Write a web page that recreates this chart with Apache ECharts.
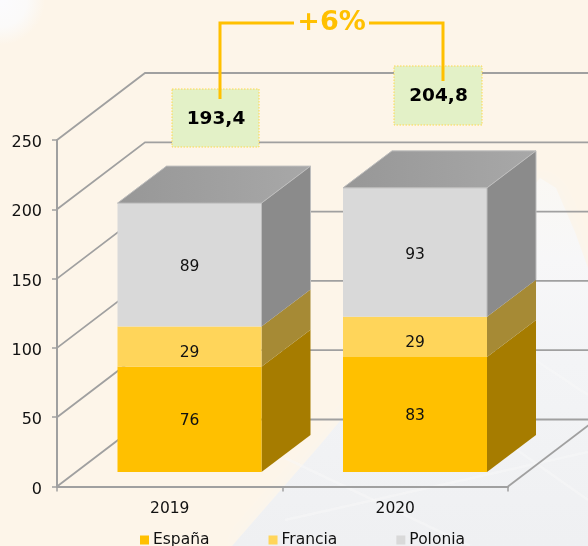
<!DOCTYPE html>
<html><head><meta charset="utf-8">
<style>html,body{margin:0;padding:0;background:#FDF5E9}#c{width:588px;height:546px}</style>
<script src="https://cdn.jsdelivr.net/npm/echarts@6/dist/echarts.min.js"></script>
</head><body><div id="c"></div>
<script>
const categories = ['2019', '2020'];
const espana = [76, 83];
const francia = [29, 29];
const polonia = [89, 93];
const totals = ['193,4', '204,8'];
const change = '+6%';
const yTicks = [0, 50, 100, 150, 200, 250];
const seriesNames = ['España', 'Francia', 'Polonia'];
const seriesValues = [espana, francia, polonia];
const frontColors = ['#FFC000', '#FFD55A', '#D9D9D9'];
const sideColors = ['#A67C00', '#A68A35', '#8B8B8B'];
const FONT = '"DejaVu Sans", Verdana, sans-serif';
const TXT = '#111111', GRIDC = '#A0A0A0', GOLD = '#FFC000';
const WALL = [88, -67], FRONT_DY = -14.5, DEPTH = [49, -37], BAR_W = 144, BAR_OFF = -52.25;
const LABEL_DY = [1.5, 6, 2.5];

function gridItem(params, api) {
  const v = api.value(0);
  const band = api.size([1, 0])[0];
  const p = api.coord([0, v]);
  const x0 = p[0] - band / 2, y = p[1];
  const children = [{
    type: 'polyline',
    shape: { points: [[x0, y], [x0 + WALL[0], y + WALL[1]], [x0 + 900, y + WALL[1]]] },
    style: { stroke: GRIDC, lineWidth: 1.8, fill: 'none' }
  }];
  if (v === 0) {
    const xr = x0 + band * categories.length;
    children.push({
      type: 'line',
      shape: { x1: xr, y1: y, x2: xr + WALL[0], y2: y + WALL[1] },
      style: { stroke: GRIDC, lineWidth: 1.8 }
    });
  }
  return { type: 'group', children };
}

function barRender(si) {
  return function (params, api) {
    const ci = api.value(0), lo = api.value(1), hi = api.value(2);
    const a = api.coord([ci, lo]), b = api.coord([ci, hi]);
    const x = a[0] + BAR_OFF, yB = a[1] + FRONT_DY, yT = b[1] + FRONT_DY;
    const r = x + BAR_W, dx = DEPTH[0], dy = DEPTH[1];
    const last = si === seriesValues.length - 1;
    const children = [
      { type: 'polygon',
        shape: { points: [[r, yB], [r + dx, yB + dy], [r + dx, yT + dy], [r, yT]] },
        style: { fill: sideColors[si] } },
      { type: 'rect', shape: { x, y: yT, width: BAR_W, height: yB - yT },
        style: { fill: frontColors[si] } }
    ];
    if (last) {
      children.push({
        type: 'polygon',
        shape: { points: [[x, yT], [r, yT], [r + dx, yT + dy], [x + dx, yT + dy]] },
        style: {
          fill: new echarts.graphic.LinearGradient(0, 0, 1, 0, [
            { offset: 0, color: '#979797' }, { offset: 1, color: '#A8A8A8' }]),
          stroke: '#BDBDBD', lineWidth: 1
        }
      });
      children.push({ type: 'line', shape: { x1: r + dx, y1: yT + dy, x2: r + dx, y2: yB + dy },
        style: { stroke: '#BDBDBD', lineWidth: 1 } });
      children.push({ type: 'line', shape: { x1: r, y1: yT, x2: r, y2: yB },
        style: { stroke: '#BDBDBD', lineWidth: 1 } });
    }
    children.push({
      type: 'text',
      style: { text: String(hi - lo), x: x + BAR_W / 2, y: (yT + yB) / 2 + LABEL_DY[si], align: 'center',
               verticalAlign: 'middle', fill: TXT, font: '15.5px ' + FONT }
    });
    return { type: 'group', children };
  };
}

const barSeries = seriesNames.map((name, si) => ({
  name, type: 'custom', z: 3, clip: false,
  coordinateSystem: 'cartesian2d',
  itemStyle: { color: frontColors[si] },
  encode: { x: 0, y: [1, 2] },
  renderItem: barRender(si),
  data: categories.map((c, ci) => {
    let base = 0;
    for (let k = 0; k < si; k++) base += seriesValues[k][ci];
    return [ci, base, base + seriesValues[si][ci]];
  })
}));

function box(x, y, w, h, label) {
  return [
    { type: 'rect', z: 20, shape: { x, y, width: w, height: h },
      style: { fill: '#E3F1C7', stroke: '#FFD84D', lineWidth: 1, lineDash: [1.5, 1.5] } },
    { type: 'text', z: 22,
      style: { text: label, x: x + w / 2 + 0.5, y: y + h / 2 + 1, align: 'center', verticalAlign: 'middle',
               fill: '#000', font: 'bold 18.5px ' + FONT } }
  ];
}
const streak = (x1, y1, x2, y2) => ({ type: 'line', z: -8, silent: true, shape: { x1, y1, x2, y2 },
  style: { stroke: '#F8F8F9', lineWidth: 2.5, opacity: 0.45 } });

const chart = echarts.init(document.getElementById('c'), null, { renderer: 'canvas' });
chart.setOption({
  animation: false,
  backgroundColor: '#FDF5E9',
  textStyle: { fontFamily: FONT },
  grid: { left: 57, right: 80, top: 140, bottom: 59.5, containLabel: false },
  legend: {
    data: seriesNames, left: 140, top: 532, itemWidth: 9, itemHeight: 9, itemGap: 59,
    icon: 'rect', padding: 0,
    textStyle: { fontSize: 15.5, color: TXT, fontFamily: FONT, padding: [0, 0, 0, -1] }
  },
  xAxis: {
    type: 'category', data: categories,
    axisLine: { lineStyle: { color: GRIDC, width: 2 } },
    axisTick: { show: true, length: 5, alignWithLabel: false, lineStyle: { color: GRIDC, width: 1.5 } },
    axisLabel: { color: TXT, fontSize: 15.5, margin: 14, fontFamily: FONT }
  },
  yAxis: {
    type: 'value', min: 0, max: 250, interval: 50,
    axisLine: { show: true, lineStyle: { color: GRIDC, width: 2 } },
    axisTick: { show: true, length: 5, lineStyle: { color: GRIDC, width: 1.5 } },
    axisLabel: { margin: 15, formatter: '{t|{value}}',
      rich: { t: { color: TXT, fontSize: 16, fontFamily: FONT, padding: [6, 0, 0, 0] } } },
    splitLine: { show: false }
  },
  series: [{
    type: 'custom', z: 1, silent: true, clip: false, coordinateSystem: 'cartesian2d',
    renderItem: gridItem, data: yTicks.map(v => [v]), encode: { y: 0 }
  }].concat(barSeries),
  graphic: [
    { type: 'polygon', z: -10, silent: true,
      shape: { points: [[232, 546], [320, 445], [345, 415], [540, 178], [556, 188], [575, 232], [588, 268], [588, 546]] },
      style: {
        fill: new echarts.graphic.LinearGradient(0, 0, 0, 1, [
          { offset: 0, color: '#FAF8F4' }, { offset: 0.22, color: '#F7F7F8' }, { offset: 0.5, color: '#F3F4F6' }, { offset: 1, color: '#EFF0F2' }]),
        shadowBlur: 18, shadowColor: '#F8F5EF'
      } },
    { type: 'circle', z: -9, silent: true, shape: { cx: 0, cy: 0, r: 45 },
      style: { fill: new echarts.graphic.RadialGradient(0.5, 0.5, 0.5, [
        { offset: 0, color: '#FBFBFE' }, { offset: 0.6, color: '#FBFAF9' }, { offset: 1, color: '#FDF5E9' }]) } },
    streak(285, 520, 588, 452),
    streak(285, 458, 470, 546),
    streak(510, 445, 588, 500),
    streak(490, 330, 588, 395),
    ...box(172, 89, 87, 58, totals[0]),
    ...box(394, 66, 88, 59, totals[1]),
    { type: 'polyline', z: 25, shape: { points: [[220, 99], [220, 23], [294, 23]] },
      style: { stroke: GOLD, lineWidth: 3, fill: 'none' } },
    { type: 'polyline', z: 25, shape: { points: [[369, 23], [443, 23], [443, 81]] },
      style: { stroke: GOLD, lineWidth: 3, fill: 'none' } },
    { type: 'text', z: 25,
      style: { text: change, x: 331.5, y: 23, align: 'center', verticalAlign: 'middle',
               fill: GOLD, font: 'bold 27px ' + FONT } }
  ]
});
</script></body></html>
